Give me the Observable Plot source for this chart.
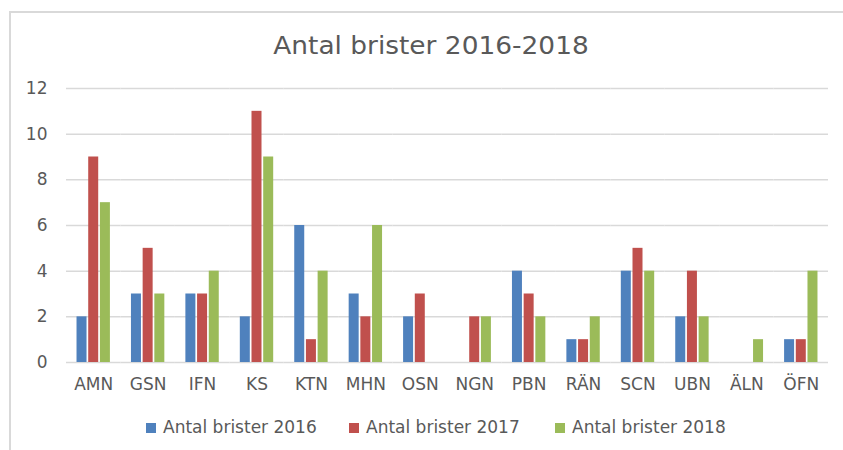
<!DOCTYPE html>
<html>
<head>
<meta charset="utf-8">
<script src="https://cdn.jsdelivr.net/npm/d3@7"></script>
<script src="https://cdn.jsdelivr.net/npm/@observablehq/plot@0.6"></script>
<style>
  html, body { margin: 0; padding: 0; width: 843px; height: 450px; overflow: hidden; background: #fff; font-family: "DejaVu Sans", sans-serif; }
  #frame { position: absolute; left: 9px; top: 11px; width: 900px; height: 500px; border: 2px solid #d9d9d9; box-sizing: border-box; }
  #title { position: absolute; left: 0; width: 862px; top: 28px; text-align: center; font-size: 24px; color: #595959; line-height: 36px; transform: scaleX(1.1); transform-origin: 431px 0; }
  #chart { position: absolute; left: 0; top: 70px; }
  #legend { position: absolute; left: 0; top: 416px; width: 843px; height: 24px; font-size: 17px; color: #595959; }
  .item { position: absolute; top: 0; line-height: 22px; white-space: nowrap; }
  .sw { display: inline-block; width: 10px; height: 10px; margin-right: 7px; vertical-align: 0px; }
</style>
</head>
<body>
<div id="frame"></div>
<div id="title">Antal brister 2016-2018</div>
<div id="chart"></div>
<div id="legend"></div>
<script>
const categories = ["AMN","GSN","IFN","KS","KTN","MHN","OSN","NGN","PBN","RÄN","SCN","UBN","ÄLN","ÖFN"];
const series = ["Antal brister 2016","Antal brister 2017","Antal brister 2018"];
const v2016 = [2,3,3,2,6,3,2,0,4,1,4,2,0,1];
const v2017 = [9,5,3,11,1,2,3,2,3,1,5,4,0,1];
const v2018 = [7,3,4,9,4,6,0,2,2,2,4,2,1,4];
const colors = ["#4F81BD","#C0504D","#9BBB59"];
const yTicks = [0,2,4,6,8,10,12];

const values = [v2016, v2017, v2018];
const data = [];
series.forEach((s, i) => categories.forEach((c, j) => data.push({cat: c, series: s, value: values[i][j]})));

const chart = Plot.plot({
  width: 843,
  height: 340,
  marginTop: 18,
  marginBottom: 48,
  marginLeft: 66,
  marginRight: 15,
  style: {fontFamily: "'DejaVu Sans', sans-serif", fontSize: "17px", color: "#595959", background: "transparent"},
  fx: {domain: categories, padding: 0, round: false, axis: "bottom", tickSize: 0, tickPadding: 15, label: null},
  x: {domain: series, axis: null, round: false, paddingInner: 0.145, paddingOuter: 0.9},
  y: {domain: [0, 12], ticks: yTicks, tickSize: 0, tickPadding: 19, label: null},
  color: {domain: series, range: colors},
  marks: [
    Plot.gridY(yTicks, {stroke: "#d9d9d9", strokeOpacity: 1, strokeWidth: 1.5}),
    Plot.barY(data, {fx: "cat", x: "series", y: "value", fill: "series", insetLeft: 0, insetRight: 0})
  ]
});
document.getElementById("chart").appendChild(chart);

const legend = document.getElementById("legend");
const lx = [146, 349, 555];
series.forEach((s, i) => {
  const d = document.createElement("div");
  d.className = "item";
  d.style.left = lx[i] + "px";
  d.innerHTML = `<span class="sw" style="background:${colors[i]}"></span>${s}`;
  legend.appendChild(d);
});
</script>
</body>
</html>
